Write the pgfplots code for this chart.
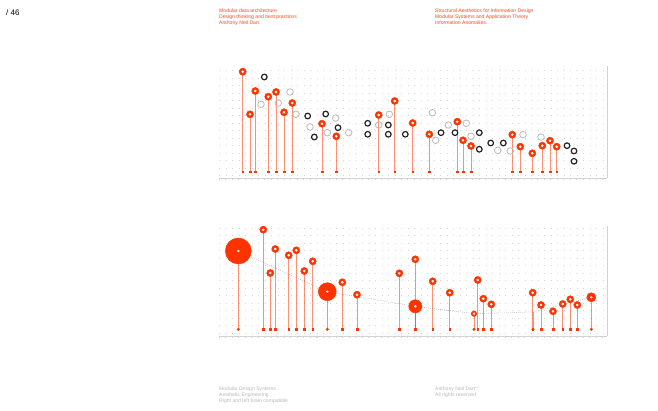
\documentclass[border=0pt]{standalone}
\usepackage{pgfplots}
\pgfplotsset{compat=1.18}
\usepackage{pgfplotstable}
\usepackage{fontspec}
\setmainfont{Liberation Sans}
\definecolor{accent}{RGB}{255,51,0}
\definecolor{txtred}{RGB}{255,70,30}
\definecolor{dark}{RGB}{34,34,34}
\definecolor{lgray}{RGB}{185,185,185}

% top panel: x = position, y = height above baseline
\pgfplotstableread{
x y
242.7 100.0
250.0 57.4
255.3 80.7
268.3 75.0
276.0 79.7
284.0 59.4
292.3 68.7
322.0 48.0
336.3 35.4
378.7 56.7
394.7 70.7
412.7 48.7
429.3 37.4
457.3 50.0
463.0 31.4
471.0 25.7
512.3 37.0
520.3 25.0
532.3 18.4
542.3 26.0
550.0 31.0
556.7 25.0
}\topred
\pgfplotstableread{
x y
264.3 94.7
307.7 55.7
314.3 34.7
325.7 57.7
338.0 44.0
367.7 48.4
367.7 37.4
388.3 46.7
388.3 37.4
405.3 37.4
441.0 39.0
455.0 39.0
479.3 39.0
479.3 22.4
490.7 28.7
503.3 28.7
567.0 26.0
574.0 20.7
574.0 10.4
}\topblack
\pgfplotstableread{
x y
261.0 67.4
278.3 68.7
290.0 79.7
296.0 57.4
310.0 44.7
327.3 39.0
335.7 53.7
348.7 39.0
378.7 46.7
389.3 57.4
432.3 59.0
435.7 31.4
448.3 46.7
466.3 48.4
471.0 35.4
497.7 21.4
510.3 20.7
523.0 37.0
541.0 34.7
}\topgray
% bottom panel
\pgfplotstableread{
x y
263.3 99.6
270.3 56.3
275.3 80.3
288.7 74.0
296.3 79.0
304.3 58.3
312.7 68.0
342.3 47.0
357.0 34.6
399.3 56.0
415.3 70.0
432.7 48.0
449.7 36.6
477.7 49.3
483.3 30.6
491.3 25.0
532.7 36.6
541.0 24.3
553.0 18.0
562.7 25.3
570.3 30.0
577.3 24.3
}\botred
\pgfplotstableread{
x y
238.3 78.3
327.3 37.6
415.3 23.0
474.0 15.6
533.0 17.3
591.3 32.0
}\trend

\pgfplotsset{
  panel/.style={
    scale only axis, anchor=south west, clip=false,
    xmin=219, xmax=607,
    axis x line=bottom, axis y line=right,
    axis line style={-, draw=gray!35, line width=0.7pt},
    xtick={219,225.5,...,607}, xticklabels={},
    x tick style={draw=gray!35, line width=0.4pt},
    major tick length=2pt, tick align=outside,
    yticklabels={}, y tick style={draw=none},
    ymajorgrids,
    y grid style={draw=gray!32, line width=0.7pt, dash pattern=on 0.7pt off 5.8pt},
  },
  stem/.style={ycomb, draw=accent, draw opacity=0.55, line width=1pt, no marks, forget plot},
  basetick/.style={only marks, mark=square*, mark size=0.7pt, color=accent, forget plot},
  redmark/.style={only marks, mark=*, mark size=3.6pt, mark options={fill=accent, draw=accent}, forget plot},
  whitedot/.style={only marks, mark=*, mark size=1.1pt, mark options={fill=white, draw=white}, forget plot},
}
\newcommand{\lbl}{\fontsize{5.1}{6}\selectfont}

\begin{document}
\begin{tikzpicture}[x=1pt,y=1pt]
\useasboundingbox (0,0) rectangle (658,411);

% header texts
\node[anchor=west, font=\fontsize{8}{9}\selectfont, inner sep=0] at (6,398) {/ 46};
\node[anchor=north west, align=left, text=txtred, font=\lbl, inner sep=0] at (219,402.5)
  {Modular data architecture\\Design thinking and best practices\\Anthony Neil Dart};
\node[anchor=north west, align=left, text=txtred, font=\lbl, inner sep=0] at (435,402.5)
  {Structural Aesthetics for Information Design\\Modular Systems and Application Theory\\Information Anomalies.};
% footer texts
\node[anchor=north west, align=left, text=lgray, font=\lbl, inner sep=0] at (219,24.5)
  {Modular Design Systems\\Aesthetic Engineering\\Right and left brain compatible};
\node[anchor=north west, align=left, text=lgray, font=\lbl, inner sep=0] at (435,24.5)
  {Anthony Neil Dart\raisebox{1.6pt}{\fontsize{2.4}{3}\selectfont TM}\\All rights reserved};

% ===== top panel =====
\begin{axis}[panel, at={(219,233)}, width=388pt, height=112pt,
  ymin=-6.3, ymax=105.7, ytick={-4,3.5,...,105}]
\addplot[stem] table[x=x,y=y] {\topred};
\addplot[basetick] table[x=x,y expr=0] {\topred};
\addplot[only marks, mark=o, mark size=3.3pt, mark options={draw=lgray, line width=0.8pt}, forget plot] table[x=x,y=y] {\topgray};
\addplot[only marks, mark=o, mark size=2.8pt, mark options={draw=dark, line width=1.2pt}, forget plot] table[x=x,y=y] {\topblack};
\addplot[redmark] table[x=x,y=y] {\topred};
\addplot[whitedot] table[x=x,y=y] {\topred};
\end{axis}

% ===== bottom panel =====
\begin{axis}[panel, at={(219,75)}, width=388pt, height=110pt,
  ymin=-6.7, ymax=103.3, ytick={-4,3.5,...,103},
  extra x ticks={316.7,445.7}, extra x tick labels={},
  extra x tick style={major tick length=2.5pt, tick style={draw=gray!70, line width=0.6pt}}]
\addplot[draw=gray!55, line width=0.6pt, dash pattern=on 0.8pt off 1.2pt, no marks, forget plot] table[x=x,y=y] {\trend};
\addplot[stem] table[x=x,y=y] {\botred};
\addplot[stem] table[x=x,y=y] {\trend};
\addplot[basetick] table[x=x,y expr=0] {\botred};
\addplot[basetick, mark=*, mark size=1.3pt] table[x=x,y expr=0] {\trend};
\addplot[redmark] table[x=x,y=y] {\botred};
\addplot[whitedot] table[x=x,y=y] {\botred};
% sized circles
\addplot[only marks, mark=*, mark size=13pt, mark options={fill=accent, draw=accent}, forget plot] coordinates {(238.3,78.3)};
\addplot[only marks, mark=*, mark size=9pt, mark options={fill=accent, draw=accent}, forget plot] coordinates {(327.3,37.6)};
\addplot[only marks, mark=*, mark size=6.6pt, mark options={fill=accent, draw=accent}, forget plot] coordinates {(415.3,23.0)};
\addplot[only marks, mark=*, mark size=4.6pt, mark options={fill=accent, draw=accent}, forget plot] coordinates {(591.3,32.0)};
\addplot[only marks, mark=*, mark size=2.8pt, mark options={fill=accent, draw=accent}, forget plot] coordinates {(474.0,15.6)};
\addplot[whitedot, mark size=1.0pt] coordinates {(238.3,78.3) (327.3,37.6) (415.3,23.0) (591.3,32.0) (474.0,15.6)};
\end{axis}
\end{tikzpicture}
\end{document}
